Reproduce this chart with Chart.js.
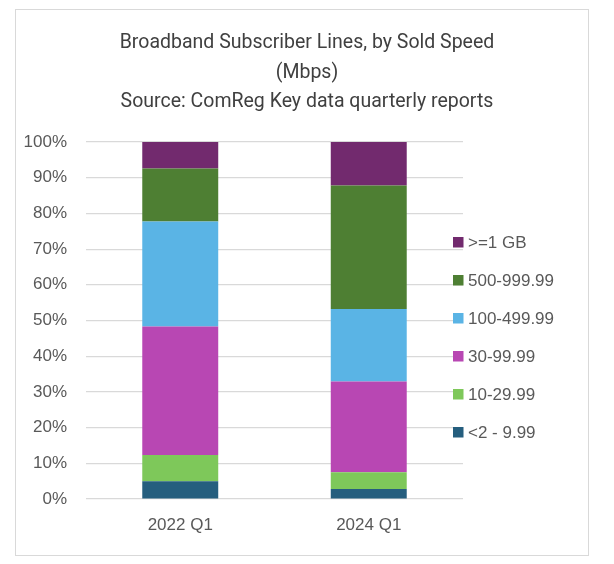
<html lang="en">
<head>
    <meta charset="UTF-8">
    <title>Broadband Subscriber Lines</title>
    <script src="https://cdn.jsdelivr.net/npm/chart.js"></script>
    <style>
        body { margin: 0; background: #fff; }
        #wrap { position: relative; width: 614px; height: 564px; }
        #frame { position: absolute; left: 15px; top: 9px; width: 572px; height: 545px; border: 1.5px solid #d9d9d9; pointer-events: none; }
    </style>
</head>
<body>
    <div id="wrap">
        <canvas id="chart" width="614" height="564"></canvas>
        <div id="frame"></div>
    </div>

    <script>
        // data (share of lines, %)
        const quarters = ['2022 Q1', '2024 Q1'];
        const speedBands = ['<2 - 9.99', '10-29.99', '30-99.99', '100-499.99', '500-999.99', '>=1 GB'];
        const bandColors = ['#255e7e', '#7ec85a', '#b847b3', '#5ab4e5', '#4e7f33', '#722a6e'];
        const band2to10 = [5.0, 2.8];
        const band10to30 = [7.3, 4.7];
        const band30to100 = [36.0, 25.4];
        const band100to500 = [29.4, 20.3];
        const band500to1000 = [14.9, 34.6];
        const band1gb = [7.4, 12.2];
        const bandValues = [band2to10, band10to30, band30to100, band100to500, band500to1000, band1gb];
        const titleLines = ['Broadband Subscriber Lines, by Sold Speed', '(Mbps)', 'Source: ComReg Key data quarterly reports'];

        const textColor = '#595959';
        const fontFamily = '"Liberation Sans", Arial, sans-serif';

        // title centred on the whole frame, legend on the right overlapping the gridline ends (Excel style)
        const excelDecor = {
            id: 'excelDecor',
            afterDraw(chart) {
                const ctx = chart.ctx;
                const sets = chart.data.datasets;
                ctx.save();
                ctx.textBaseline = 'middle';

                ctx.font = '19.5px Roboto, "Open Sans", sans-serif';
                ctx.fillStyle = '#404040';
                ctx.textAlign = 'center';
                const titleY = [43, 73, 102];
                titleLines.forEach((t, i) => ctx.fillText(t, 307, titleY[i]));

                ctx.font = '17px ' + fontFamily;
                ctx.textAlign = 'left';
                for (let k = 0; k < sets.length; k++) {
                    const ds = sets[sets.length - 1 - k];
                    const y = 242 + k * 38;
                    ctx.fillStyle = ds.backgroundColor;
                    ctx.fillRect(453, y - 5, 10.5, 10.5);
                    ctx.fillStyle = textColor;
                    ctx.fillText(ds.label, 468, y + 1);
                }
                ctx.restore();
            }
        };

        const ctx = document.getElementById('chart').getContext('2d');
        const chart = new Chart(ctx, {
            type: 'bar',
            data: {
                labels: quarters,
                datasets: speedBands.map((name, i) => ({
                    label: name,
                    data: bandValues[i],
                    backgroundColor: bandColors[i],
                    borderWidth: 0,
                    categoryPercentage: 1,
                    barPercentage: 0.403
                }))
            },
            options: {
                responsive: false,
                animation: false,
                devicePixelRatio: 1,
                layout: { padding: { top: 142, right: 151, bottom: 0, left: 0 } },
                plugins: {
                    legend: { display: false },
                    tooltip: { enabled: false },
                    title: { display: false }
                },
                scales: {
                    x: {
                        stacked: true,
                        grid: { display: false, drawTicks: false },
                        border: { display: false },
                        ticks: { color: textColor, font: { family: fontFamily, size: 17 }, padding: 16 },
                        afterFit(scale) { scale.height = 65; }
                    },
                    y: {
                        stacked: true,
                        min: 0,
                        max: 100,
                        grid: { color: '#d9d9d9', lineWidth: 1.2, drawTicks: false },
                        border: { display: false },
                        ticks: {
                            stepSize: 10,
                            color: textColor,
                            font: { family: fontFamily, size: 17 },
                            padding: 19,
                            callback: v => v + '%'
                        },
                        afterFit(scale) { scale.width = 86; }
                    }
                }
            },
            plugins: [excelDecor]
        });
    </script>
</body>
</html>
